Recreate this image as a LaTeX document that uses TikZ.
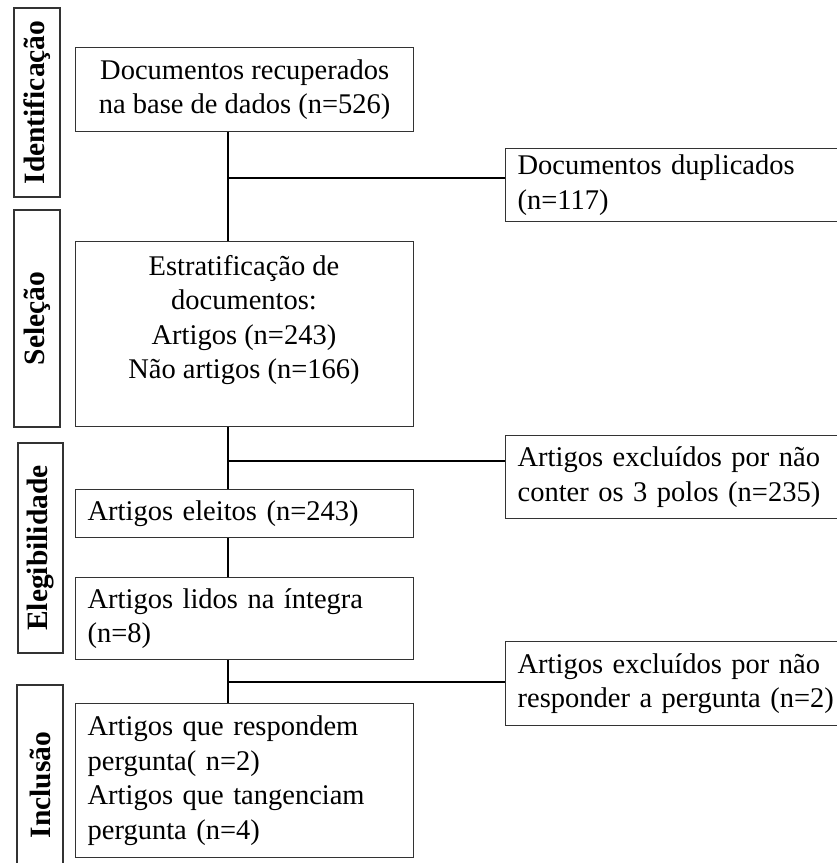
\documentclass[tikz,border=0pt]{standalone}
\usepackage{fontspec}
\setmainfont{Liberation Serif}
\begin{document}
\begin{tikzpicture}[x=1pt,y=-1pt,
  every node/.style={font=\fontsize{28.5}{34.5}\selectfont},
  box/.style={draw=black!80, line width=1.3pt, inner sep=0pt, anchor=north west},
  lbox/.style={box, inner xsep=12pt, align=left},
  stage/.style={draw=black!80, line width=1.3pt, inner sep=0pt, rotate=90,
    font=\fontsize{29.5}{34.5}\selectfont\bfseries, minimum height=46pt},
  conn/.style={line width=1.6pt, black}]
\useasboundingbox (0,0) rectangle (837,863);
\clip (0,0) rectangle (837,863);
% stage labels
\node[stage, minimum width=189pt] (s1) at (37,102.5) {Identificação};
\node[stage, minimum width=217pt] (s2) at (37,318.5) {Seleção};
\node[stage, minimum width=210pt, minimum height=45pt] (s3) at (40.5,548) {Elegibilidade};
\node[stage, minimum width=200pt] (s4) at (40,785) {Inclusão};
% main column
\node[box, minimum width=338pt, minimum height=84pt, align=center] (b1) at (75,47)
  {Documentos recuperados\\na base de dados (n=526)};
\node[box, minimum width=338pt, minimum height=185pt] (b2) at (75,241) {};
\node[anchor=north, align=center, inner sep=0pt] (b2t) at (244,255)
  {Estratificação de\\documentos:\\Artigos (n=243)\\Não artigos (n=166)};
\node[lbox, text width=314pt, minimum height=48pt] (b3) at (75,489)
  {Artigos eleitos (n=243)};
\node[lbox, text width=314pt, minimum height=82pt] (b4) at (75,577)
  {Artigos lidos na íntegra\\(n=8)};
\node[lbox, text width=314pt, minimum height=154pt] (b5) at (75,703)
  {Artigos que respondem\\pergunta( n=2)\\Artigos que tangenciam\\pergunta (n=4)};
% exclusion boxes
\node[lbox, text width=331pt, minimum height=73pt] (e1) at (505,148)
  {Documentos duplicados\\(n=117)};
\node[lbox, text width=331pt, minimum height=83pt] (e2) at (505,435)
  {Artigos excluídos por não\\conter os 3 polos (n=235)};
\node[lbox, text width=331pt, minimum height=84pt] (e3) at (505,641)
  {Artigos excluídos por não\\responder a pergunta (n=2)};
% connectors
\coordinate (t1) at (228,178);
\coordinate (t2) at (228,461);
\coordinate (t3) at (228,682);
\draw[conn] (b1.south -| t1) -- (b2.north -| t1);
\draw[conn] (t1) -- (e1.west |- t1);
\draw[conn] (b2.south -| t2) -- (b3.north -| t2);
\draw[conn] (t2) -- (e2.west |- t2);
\draw[conn] (b3.south -| t2) -- (b4.north -| t2);
\draw[conn] (b4.south -| t3) -- (b5.north -| t3);
\draw[conn] (t3) -- (e3.west |- t3);
\end{tikzpicture}
\end{document}
